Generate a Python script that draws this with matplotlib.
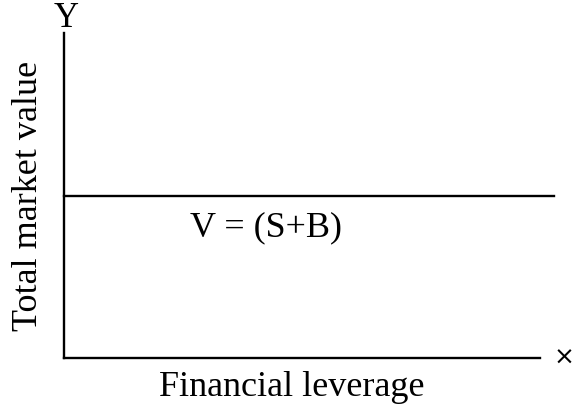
import matplotlib.pyplot as plt

# schematic data: total market value stays flat as leverage changes
leverage = [0, 10.3]
market_value = [5, 5]
x_max = 10
y_max = 10
line_label = 'V = (S+B)'
x_label = 'Financial leverage'
y_label = 'Total market value'

plt.rcParams['font.family'] = ['Liberation Serif', 'DejaVu Serif']

fig = plt.figure(figsize=(5.74, 4.05), dpi=100)
ax = fig.add_axes([64 / 574, 47 / 405, 476 / 574, 325 / 405])

ax.plot(leverage, market_value, color='black', linewidth=1.7, clip_on=False)
ax.set_xlim(0, x_max)
ax.set_ylim(0, y_max)

for side in ['top', 'right']:
    ax.spines[side].set_visible(False)
for side in ['left', 'bottom']:
    ax.spines[side].set_linewidth(1.7)
ax.set_xticks([])
ax.set_yticks([])

ax.text(2.65, 4.0, line_label, fontsize=26, ha='left', va='center')
ax.text(0.05, 9.95, 'Y', fontsize=25, ha='center', va='bottom')
ax.text(10.5, 0.0, '×', fontsize=18, ha='center', va='center',
        family=['DejaVu Sans'])

ax.set_xlabel(x_label, fontsize=26)
ax.xaxis.set_label_coords(0.478, -0.04)
ax.xaxis.label.set_va('top')
ax.set_ylabel(y_label, fontsize=26, labelpad=14)

fig.savefig('out.png', dpi=100)
